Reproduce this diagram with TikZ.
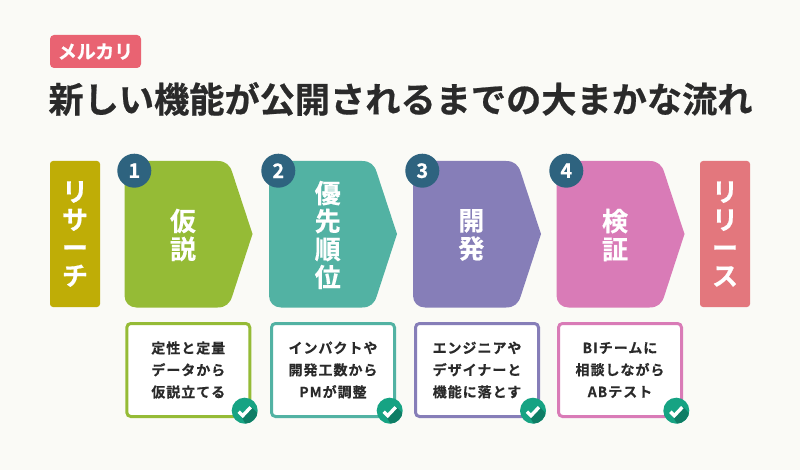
\documentclass[tikz,border=0pt]{standalone}
\usepackage{fontspec}
\setmainfont{Noto Sans CJK JP}[BoldFont={* Bold},BoldFeatures={FakeBold=0.6}]
\newfontfamily\jpspaced{Noto Sans CJK JP}[BoldFont={* Bold},LetterSpace=7,BoldFeatures={FakeBold=0.4}]
\definecolor{bgc}{HTML}{FAFAF6}
\definecolor{badgec}{HTML}{E96372}
\definecolor{titlec}{HTML}{2A2A2A}
\definecolor{goldc}{HTML}{BFAD06}
\definecolor{greenc}{HTML}{95BB36}
\definecolor{tealc}{HTML}{52B2A3}
\definecolor{purplec}{HTML}{867EB8}
\definecolor{pinkc}{HTML}{D97BB7}
\definecolor{redc}{HTML}{E3777D}
\definecolor{navyc}{HTML}{2E637F}
\definecolor{checkc}{HTML}{16A383}
\definecolor{checkd}{HTML}{0E7D65}
\tikzset{
  x=1pt,y=-1pt,
  barbox/.style={minimum width=50pt,minimum height=146pt,rounded corners=3pt,inner sep=0pt,text=white,font=\bfseries\fontsize{26}{28}\selectfont,align=center},
  biglabel/.style={inner sep=0pt,text=white,font=\bfseries\fontsize{26}{28}\selectfont,align=center},
  numdot/.style={circle,fill=navyc,minimum size=34pt,inner sep=0pt,text=white,font=\bfseries\fontsize{20}{20}\selectfont},
  descbox/.style={minimum width=123pt,minimum height=93pt,line width=3pt,rounded corners=4pt,fill=white,inner sep=0pt,text=titlec,font=\jpspaced\bfseries\fontsize{14}{22}\selectfont,align=center},
  checkdot/.style={circle,fill=checkc,minimum size=26pt,inner sep=0pt},
}
\newcommand{\arrowshape}[2]{%
  \fill[#2] (#1+128,234) -- (#1+107.75,172.4)
    .. controls (#1+105.5,165) and (#1+101,161) .. (#1+93,161)
    -- (#1+12,161) .. controls (#1+5,161) and (#1,166) .. (#1,173)
    -- (#1,295.5) .. controls (#1,302.5) and (#1+5,307.5) .. (#1+12,307.5)
    -- (#1+93,307.5) .. controls (#1+101,307.5) and (#1+105.5,303.5) .. (#1+107.75,296.1)
    -- cycle;}
\newcommand{\checkmarkat}[1]{%
  \begin{scope}
    \clip (#1.center) circle[radius=13pt];
    \fill[checkd] ([shift={(-6.5,1)}]#1.center) -- ([shift={(-2,5)}]#1.center) -- ([shift={(6.5,-4)}]#1.center) -- ([shift={(26,16)}]#1.center) -- ([shift={(10,28)}]#1.center) -- cycle;
    \draw[white,line width=3.4pt] ([shift={(-6,1)}]#1.center) -- ([shift={(-2,5)}]#1.center) -- ([shift={(6,-3.5)}]#1.center);
  \end{scope}}
\begin{document}
\begin{tikzpicture}
\path[use as bounding box,fill=bgc] (0,0) rectangle (800,470);
% header
\node[fill=badgec,rounded corners=4pt,minimum width=91pt,minimum height=33pt,inner sep=0pt,text=white,font=\bfseries\fontsize{19}{19}\selectfont] (badge) at (95.5,51.5) {メルカリ};
\node[inner sep=0pt,text=titlec,font=\bfseries\fontsize{35.2}{36}\selectfont] (title) at (400.5,99) {新しい機能が公開されるまでの大まかな流れ};
% side bars
\node[barbox,fill=goldc] (research) at (75,234) {リ\\サ\\ー\\チ};
\node[barbox,fill=redc] (release) at (725,234) {リ\\リ\\ー\\ス};
% arrows
\arrowshape{124.5}{greenc}
\arrowshape{269}{tealc}
\arrowshape{413}{purplec}
\arrowshape{556.5}{pinkc}
\node[biglabel] (s1) at (183,235) {仮\\説};
\node[biglabel] (s2) at (327.7,235) {優\\先\\順\\位};
\node[biglabel] (s3) at (471.3,235) {開\\発};
\node[biglabel] (s4) at (615,235) {検\\証};
% numbers
\node[numdot] (n1) at (134.3,170.7) {1};
\node[numdot] (n2) at (278.3,170.7) {2};
\node[numdot] (n3) at (422.3,170.7) {3};
\node[numdot] (n4) at (566.3,170.7) {4};
% description boxes
\node[descbox,draw=greenc] (d1) at (188.3,370) {定性と定量\\データから\\仮説立てる};
\node[descbox,draw=tealc] (d2) at (333,370) {インパクトや\\開発工数から\\PMが調整};
\node[descbox,draw=purplec] (d3) at (477,370) {エンジニアや\\デザイナーと\\機能に落とす};
\node[descbox,draw=pinkc] (d4) at (620,370) {BIチームに\\相談しながら\\ABテスト};
% checks
\node[checkdot] (c1) at (244.7,410.7) {};
\node[checkdot] (c2) at (389.7,410.7) {};
\node[checkdot] (c3) at (533,410.7) {};
\node[checkdot] (c4) at (676.3,410.7) {};
\checkmarkat{c1}
\checkmarkat{c2}
\checkmarkat{c3}
\checkmarkat{c4}
\end{tikzpicture}
\end{document}
